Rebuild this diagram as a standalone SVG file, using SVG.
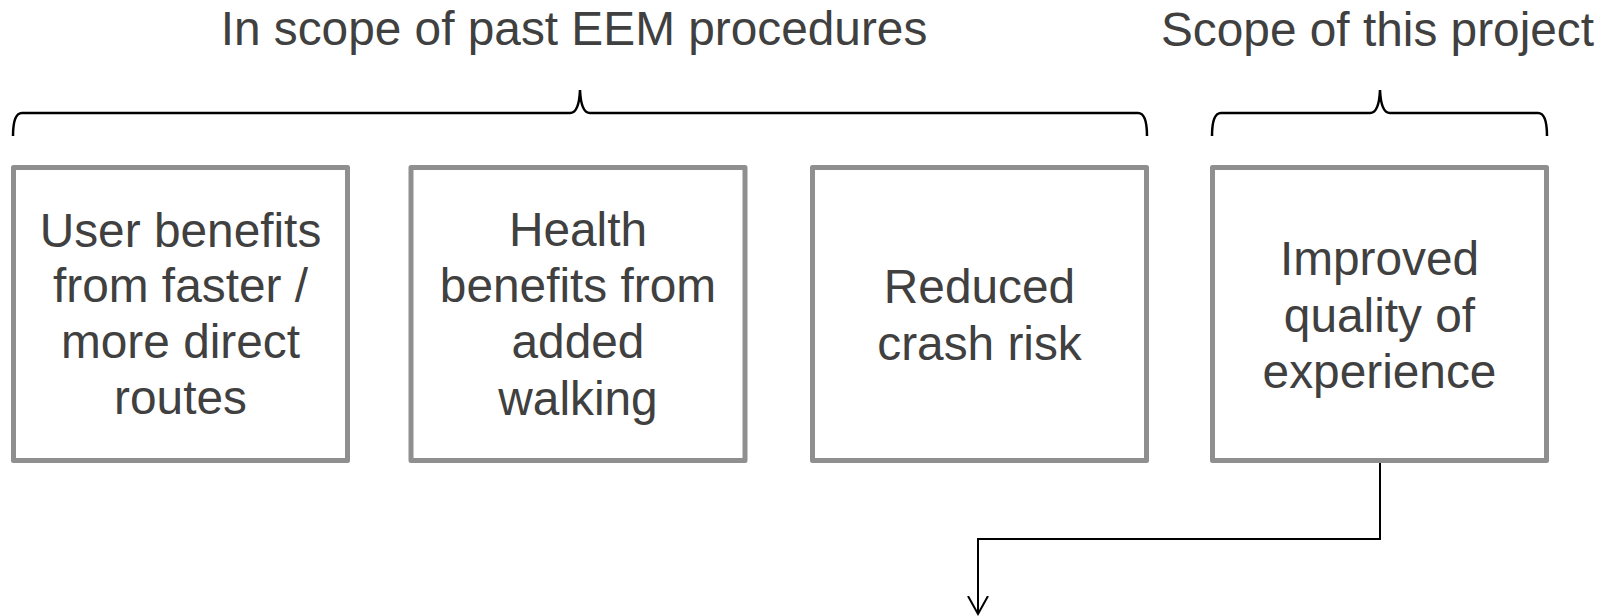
<svg xmlns="http://www.w3.org/2000/svg" width="1600" height="616" viewBox="0 0 1600 616">
<style>
.box{fill:#fff;stroke:#8f8f8f;stroke-width:5;stroke-linejoin:round}
.t{font-family:"Liberation Sans",Arial,sans-serif;font-size:47.8px;fill:#404040;text-anchor:middle}
.brace{fill:none;stroke:#000;stroke-width:2.5}
.conn{fill:none;stroke:#000;stroke-width:2}
</style>
<defs>
<marker id="arr" viewBox="0 0 20 22" refX="18" refY="11" markerWidth="20" markerHeight="22" markerUnits="userSpaceOnUse" orient="auto">
<path d="M0,1 L18,11 L0,21" fill="none" stroke="#000" stroke-width="2"/>
</marker>
</defs>
<rect width="1600" height="616" fill="#fff"/>
<g id="title-past">
<text class="t" x="574" y="45">In scope of past EEM procedures</text>
<path class="brace" d="M13,136 Q13,113 22,113 H570 Q579,113 580,90 Q581,113 590,113 H1138 Q1147,113 1147,136"/>
</g>
<g id="title-project">
<text class="t" x="1377.5" y="46">Scope of this project</text>
<path class="brace" d="M1212,136 Q1212,113 1221,113 H1370 Q1379,113 1380,90 Q1381,113 1390,113 H1538 Q1547,113 1547,136"/>
</g>
<g id="node-user">
<rect class="box" x="13.5" y="167.5" width="334" height="293"/>
<text class="t" x="180.5" y="246.7">User benefits</text>
<text class="t" x="180.5" y="302.3">from faster /</text>
<text class="t" x="180.5" y="358">more direct</text>
<text class="t" x="180.5" y="413.6">routes</text>
</g>
<g id="node-health">
<rect class="box" x="411" y="167.5" width="334" height="293"/>
<text class="t" x="578" y="245.5">Health</text>
<text class="t" x="578" y="301.7">benefits from</text>
<text class="t" x="578" y="358.3">added</text>
<text class="t" x="578" y="414.5">walking</text>
</g>
<g id="node-crash">
<rect class="box" x="812.5" y="167.5" width="334" height="293"/>
<text class="t" x="979.5" y="303.3">Reduced</text>
<text class="t" x="979.5" y="360">crash risk</text>
</g>
<g id="node-quality">
<rect class="box" x="1212.5" y="167.5" width="334" height="293"/>
<text class="t" x="1379.5" y="275">Improved</text>
<text class="t" x="1379.5" y="331.7">quality of</text>
<text class="t" x="1379.5" y="388.3">experience</text>
</g>
<g id="connectors">
<path class="conn" d="M1380,463 V539 H978 V614" marker-end="url(#arr)"/>
</g>
</svg>
